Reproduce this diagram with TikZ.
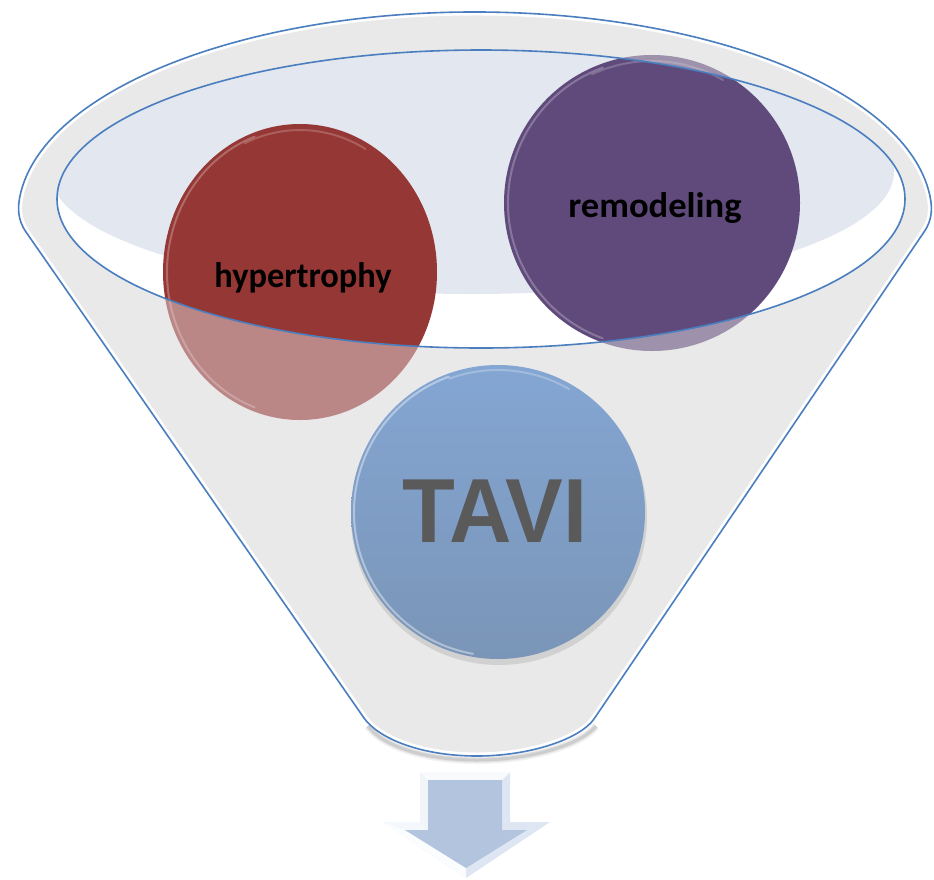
\documentclass[tikz,border=0pt]{standalone}
\usepackage{fontspec}
\newfontfamily\labelfont{Carlito}
\newfontfamily\tavifont{Liberation Sans}
\usetikzlibrary{shapes.geometric}

\definecolor{rimblue}{HTML}{4A7EBF}
\definecolor{funnelgray}{HTML}{E9E9E9}
\definecolor{palefill}{HTML}{E2E7F0}
\definecolor{redball}{HTML}{953735}
\definecolor{purpleball}{HTML}{5F4A7B}
\definecolor{tavitop}{HTML}{84A6D3}
\definecolor{tavibot}{HTML}{7A95B7}
\definecolor{tavitext}{HTML}{5A5A5A}
\definecolor{arrowface}{HTML}{B2C4DE}
\definecolor{arrowedge}{HTML}{DDE6F2}

\tikzset{
  ball/.style={ellipse, inner sep=0pt, outer sep=0pt, draw=none},
  balltext/.style={anchor=base, inner sep=0pt, text=black,
    font=\labelfont\bfseries\fontsize{35.5}{36}\selectfont},
  rimline/.style={draw=rimblue, line width=1.6pt},
  gloss/.style={white, line width=2pt, opacity=0.25, line cap=round},
}

% outline of the funnel and of its opening
\def\funnelpath{(26,232) .. controls (17,219) and (18,207) .. (19.7,197.3)
  arc[start angle=185, end angle=355, x radius=457, y radius=203]
  .. controls (932,207) and (933,219) .. (924,232)
  -- (594,719) .. controls (580,739) and (530,756) .. (477,756)
  .. controls (420,756) and (378,738) .. (364,718) -- cycle}
\def\rimpath{(481,199) ellipse [x radius=424, y radius=149]}

\begin{document}
\begin{tikzpicture}[x=1pt, y=-1pt]
\useasboundingbox (0,0) rectangle (934,879);

% soft shadow under the funnel
\foreach \w/\o in {8/0.05, 5/0.07, 3/0.09}
  \draw[black, line width=\w pt, opacity=\o] (368,726) .. controls (382,745) and (422,760) .. (477,760)
    .. controls (532,760) and (582,744) .. (596,726);

% funnel body and the opening
\fill[funnelgray] \funnelpath;
\fill[white] \rimpath;
\begin{scope}
  \clip \rimpath;
  \fill[palefill] (472,172) ellipse [x radius=422, y radius=122];
\end{scope}

% the two balls sitting in the opening
\node[ball, fill=redball, minimum width=274pt, minimum height=296pt] (hyper) at (300,272) {};
\node[ball, fill=purpleball, minimum width=296pt, minimum height=296pt] (remod) at (652,203) {};
\draw[gloss] (hyper.center) ++(110:133 and 144) arc[start angle=110, end angle=250, x radius=133, y radius=144];
\draw[gloss] (remod.center) ++(110:144 and 144) arc[start angle=110, end angle=250, x radius=144, y radius=144];
\draw[gloss, opacity=0.2] (hyper.center) ++(245:131 and 142) arc[start angle=245, end angle=300, x radius=131, y radius=142];
\draw[gloss, opacity=0.2] (remod.center) ++(245:142 and 142) arc[start angle=245, end angle=300, x radius=142, y radius=142];

\node[balltext, xscale=0.97] (hypertext) at (303,287) {hypertrophy};
\node[balltext, xscale=1.03] (remodtext) at (655,217) {remodeling};

% front wall of the funnel, partly see-through
\fill[funnelgray, opacity=0.45, even odd rule] \funnelpath \rimpath;

% white bevel just inside the outline
\begin{scope}
  \clip \funnelpath;
  \draw[white, line width=7pt] \funnelpath;
\end{scope}

\draw[rimline] \funnelpath;
\draw[rimline] \rimpath;

% TAVI ball in front
\fill[black, opacity=0.10] (499,517) circle (148);
\node[ball, circle, minimum size=294pt, top color=tavitop, bottom color=tavibot] (tavi) at (498,512) {};
\draw[gloss, opacity=0.4] (tavi.center) ++(100:144) arc[start angle=100, end angle=250, radius=144];
\draw[gloss, opacity=0.25] (tavi.center) ++(250:142) arc[start angle=250, end angle=300, radius=142];
\node[anchor=base, inner sep=0pt, text=tavitext,
  font=\tavifont\bfseries\fontsize{91}{91}\selectfont, xscale=0.95] (tavitext) at (495,542) {TAVI};

% block arrow below the funnel
\fill[arrowedge] (420,772) -- (510,772) -- (510,822) -- (550,822) -- (466,878)
  -- (383,822) -- (420,822) -- cycle;
\fill[white, opacity=0.8] (420,772) -- (510,772) -- (502,780) -- (428,780) -- cycle;
\fill[white, opacity=0.6] (420,772) -- (428,780) -- (428,830) -- (420,822) -- cycle;
\fill[white, opacity=0.7] (383,822) -- (420,822) -- (428,830) -- (405,830) -- cycle;
\fill[white, opacity=0.9] (383,822) -- (405,830) -- (466,868) -- (466,878) -- cycle;
\fill[arrowface] (428,780) -- (502,780) -- (502,830) -- (527,830) -- (466,868)
  -- (405,830) -- (428,830) -- cycle;
\end{tikzpicture}
\end{document}
